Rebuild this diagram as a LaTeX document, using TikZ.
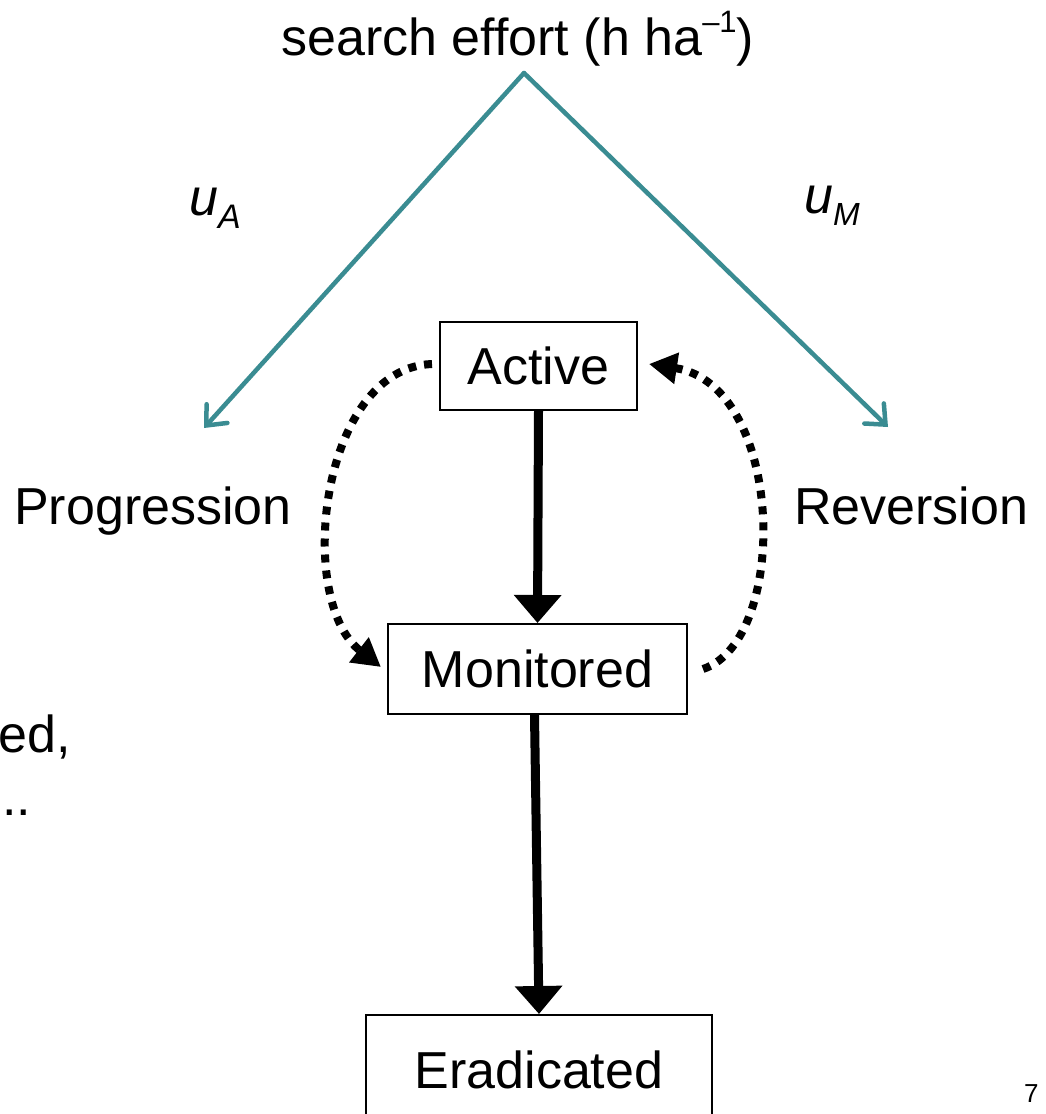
\documentclass[tikz,border=0pt]{standalone}
\usepackage{fontspec}
\setmainfont{Liberation Sans}
\usetikzlibrary{arrows.meta}
\definecolor{effortteal}{RGB}{58,140,146}
\begin{document}
\begin{tikzpicture}[x=1pt,y=-1pt,
  big/.style={font=\fontsize{52}{60}\selectfont},
  lbl/.style={big,anchor=base west,inner sep=0pt},
  state/.style={draw,line width=2pt,big,inner sep=0pt},
  flow/.style={line width=9pt,-{Triangle[length=28pt,width=46pt]}},
  loopback/.style={line width=8pt,dash pattern=on 8pt off 8pt,-{Triangle[length=28pt,width=30pt]}},
  effort/.style={draw=effortteal,line width=4.5pt,line cap=round,-{Straight Barb[length=16pt,width=28pt,line cap=round]}}]
\useasboundingbox (0,0) rectangle (1045,1114);

% states
\node[state,minimum width=197pt,minimum height=88pt] (act) at (538.5,366) {Active};
\node[state,minimum width=299pt,minimum height=90pt] (mon) at (537.5,669) {Monitored};
\node[state,minimum width=346pt,minimum height=110pt] (era) at (539,1070) {Eradicated};

% search effort split
\node[lbl] (title) at (281,55) {search effort (h ha\raisebox{23pt}{\fontsize{31}{31}\selectfont\textendash1})};
\coordinate (apex) at (524,73);
\coordinate (lt) at (204,428);
\coordinate (rt) at (888,427);
\draw[effort] (apex) -- (lt);
\draw[effort] (apex) -- (rt);
\node[lbl] (ua) at (189,215) {\textit{u}\raisebox{-13pt}{\fontsize{34}{34}\selectfont\textit{A}}};
\node[lbl] (um) at (804,213) {\textit{u}\raisebox{-12pt}{\fontsize{32}{32}\selectfont\textit{M}}};

% transitions
\draw[flow] (act.south) -- (mon.north);
\draw[flow] ([xshift=-3pt]mon.south) -- (era.north);
\draw[loopback] ([xshift=-7pt,yshift=2pt]act.west) .. controls (320,368) and (295,600) .. ([xshift=-6pt,yshift=2pt]mon.west);
\draw[loopback] ([xshift=15pt]mon.east) .. controls (790,640) and (785,385) .. ([xshift=11pt,yshift=2pt]act.east);

\node[lbl] (prog) at (14,524) {Progression};
\node[lbl] (rev) at (794,524) {Reversion};

% text running in from the left edge
\node[lbl] (frag1) at (-2,752) {ed,};
\node[lbl] (frag2) at (2,815) {..};

% page number
\node[font=\fontsize{26}{30}\selectfont,anchor=base west,inner sep=0pt] (pg) at (1024,1102) {7};
\end{tikzpicture}
\end{document}
